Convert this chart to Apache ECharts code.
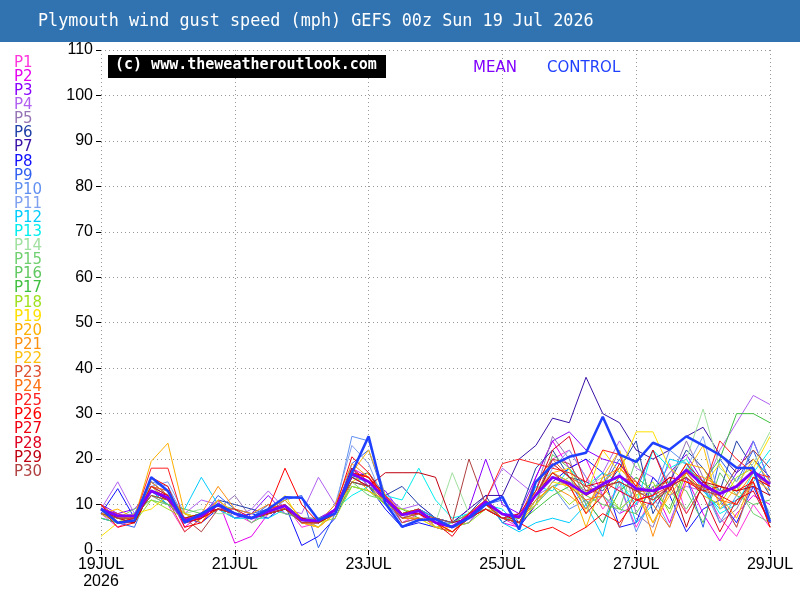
<!DOCTYPE html>
<html>
<head>
<meta charset="utf-8">
<script src="https://cdn.jsdelivr.net/npm/echarts@6/dist/echarts.min.js"></script>
<style>html,body{margin:0;padding:0;background:#fff}#c{width:800px;height:600px}</style>
</head>
<body>
<div id="c"></div>
<script>
// ---- Data ----
const titleText = 'Plymouth wind gust speed (mph) GEFS 00z Sun 19 Jul 2026';
const steps = ['19JUL 00','19JUL 06','19JUL 12','19JUL 18','20JUL 00','20JUL 06','20JUL 12','20JUL 18',
 '21JUL 00','21JUL 06','21JUL 12','21JUL 18','22JUL 00','22JUL 06','22JUL 12','22JUL 18',
 '23JUL 00','23JUL 06','23JUL 12','23JUL 18','24JUL 00','24JUL 06','24JUL 12','24JUL 18',
 '25JUL 00','25JUL 06','25JUL 12','25JUL 18','26JUL 00','26JUL 06','26JUL 12','26JUL 18',
 '27JUL 00','27JUL 06','27JUL 12','27JUL 18','28JUL 00','28JUL 06','28JUL 12','28JUL 18','29JUL 00'];
const xTickLabels = ['19JUL\n2026','21JUL','23JUL','25JUL','27JUL','29JUL'];
const yTicks = [0,10,20,30,40,50,60,70,80,90,100,110];

const meanVals = [9,7.5,7.5,13,11.5,6.5,7.5,10,8,7,8.5,9.7,6.6,6.4,8.8,16.8,15,11.3,7.7,8.6,6,5.1,7.3,10.6,7.9,7.3,12.1,16,14.6,12.3,14.5,16.3,13.5,13,14.3,17.6,14.3,12.4,14,17.3,14.5];
const controlVals = [9,6,6.5,16,13,6,8,10,8,7,9,11.6,11.5,6.6,8,17,25,10.3,5.1,6.6,6.8,5,7,10,11.7,4.5,15,18.7,20.5,21.4,29.3,21,19.4,23.6,22.1,25,23,20.9,18.1,18,6.2];

const P1  = [8,5,7,12,10,4,7,11,8,6,9,10,5,6,9,16,14,12,6,8,5,4,8,9, 7,5,10,20,22,16,9,14,5,12,19,8,14,7,3,10,5];
const P2  = [9,8,6,14,12,5,8,11,1.5,3,8,10,6,5,8,18,16,10,7,9,6,5,6,11, 6,5,16,24,18,20,12,8,10,14,6,16,8,2,8,12,10];
const P3  = [10,8,9,13,11,6,7,10,7,8,12,8,7,7,9,17,15,13,8,9,7,6,9,20, 10,8,16,24,26,22,20,19,15,12,17,21,15,11,17,24,15];
const P4  = [9,15,8,15,12,8,11,10,7,9,13,9,8,16,10,16,14,12,9,10,7,5,8,11, 18,15,12,14,15,13,17,24,18,16,12,14,13,22,28,34,32];
const P5  = [10,7,8,14,13,7,8,9,12,7,8,11,7,6,9,17,13,11,8,8,6,5,7,10, 8,7,13,25,20,10,14,22,8,5,15,24,16,6,9,16,13];
const P6  = [8,6,7,15,12,6,7,11,10,9,8,9,7,6,8,16,17,12,14,10,7,6,8,12, 6,8,18,22,16,15,13,18,24,8,15,22,18,13,24,18,12];
const P7  = [9,7,7,16,13,6,8,10,8,7,10,9,6,6,9,18,14,12,8,9,7,6,9,12, 12,20,23,29,28,38,30,28,22,20,22,25,27,21,17,20,16];
const P8  = [8,13.5,7,13,10,7,6,9,7,8,7,10,1,3,7,15,14,9,5,6,5,4,7,9, 8,5,10,15,18,20,17,5,6,16,12,4,9,11,6,14,6];
const P9  = [7,6,5,14,11,6,7,12,9,8,9,11,12,0.5,8,19,22,11,6,7,6,5,8,10, 11,6,12,17,15,9,14,20,13,22,14,16,5,20,15,22,13];
const P10 = [9,7,6,15,14,7,8,9,8,7,10,8,7,6,9,25,24,12,7,8,6,5,6,10, 8,7,10,14,9,11,6,15,4,12,22,19,14,6,12,24,15];
const P11 = [8,7,6,14,15,8,7,11,7,7,8,9,7,6,10,23,19,10,7,9,6,6,7,9, 7,7,11,18,22,16,12,8,14,12,5,18,25,11,5,15,8];
const P12 = [7,6,7,13,10,9,16,10,8,7,7,9,6,6,8,16,15,11,8,9,7,6,7,11, 6,4,6,7,6,10,3,17,6,10,20,19,13,9,11,15,20];
const P13 = [8,6,8,14,12,7,8,9,7,7,8,10,7,5,9,12,14,12,11,18,11,7,8,10, 9,5,14,13,18,14,17,15,10,22,18,20,14,8,10,17,22];
const P14 = [9,7,8,11,10,8,9,8,8,7,9,9,6,6,9,14,13,10,8,9,6,17,8,10, 8,7,15,17,13,14,16,14,12,13,17,20,31,18,15,19,26];
const P15 = [8,7,9,11,10,7,8,9,8,7,9,8,7,7,8,15,12,11,7,7,5,6,8,9, 7,7,10,14,16,10,12,9,20,11,13,9,15,13,14,8,6];
const P16 = [7,6,7,12,10,9,8,10,9,6,8,9,6,7,8,14,13,11,8,9,5,4,7,9, 7,6,10,21,18,12,10,9,8,14,15,13,6,17,12,10,11];
const P17 = [8,7,7,12,11,8,7,9,8,7,8,10,7,6,9,15,14,10,9,7,6,4,7,11, 8,6,9,12,14,11,6,13,16,13,9,18,15,20,30,30,28];
const P18 = [8,7,6,11,9,7,7,10,8,7,8,10,6,6,7,14,13,10,9,8,6,5,6,9, 7,6,11,14,10,13,14,9,12,15,8,17,12,10,16,18,7];
const P19 = [3,6,8,9,12,8,7,10,8,7,8,12,6,5,8,15,17,11,7,7,5,5,7,9, 8,6,10,15,14,12,22,17,26,26,18,15,14,19,13,18,25];
const P20 = [8,9,7,19.5,23.5,8,6,11,8,7,9,11,7,5,8,17,13,11,8,9,5,4,7,10, 7,6,12,17,15,5,15,18,14,6,13,19,18,12,7,16,13];
const P21 = [9,7,7,15,12,6,8,14,9,8,10,9,7,6,10,19,16,12,8,8,7,5,8,11, 8,6,11,14,12,9,16,18,15,3,14,17,16,14,12,17,14];
const P22 = [8,6,7,14,11,7,7,11,8,7,8,10,6,5,9,17,22,12,7,8,6,5,8,10, 7,6,13,17,18,8,16,22,12,6,12,17,23,9,14,20,15];
const P23 = [9,8,7,13,11,4,7,10,8,7,8,9,7,6,9,17,16,12,6,7,6,5,7,10, 8,7,15,20,16,14,12,5,13,11,14,8,14,12,5,16,14];
const P24 = [10,7,7,14,13,7,7,9,8,7,8,10,6,6,9,17,16,11,7,7,6,4,7,10, 7,6,12,16,14,11,12,16,15,10,5,15,14,11,10,15,5];
const P25 = [10,6,7,18,18,6,8,9,8,7,9,10,6,6,9,17,16,12,8,8,6,5,8,11, 19,20,19,18,17,15,22,21,11,12,14,17,13,24,20,17,16];
const P26 = [9,5,6,16,14,5,6,10,8,7,9,18,10,6,9,17,16,11,8,8,6,4,7,9, 7,6,4,5,3,5,8,6,11,12,16,15,13,14,13,15,5];
const P27 = [10,6,7,14,12,6,7,10,8,7,8,9,7,6,9,20.5,17,11,8,8,6,3,8,10, 8,7,12,17,14,8,12,19,14,22,13,19,15,12,10,16,14];
const P28 = [9,6,6,13,12,6,7,9,9,7,8,9,7,6,8,18,15,11,8,9,6,5,7,9, 7,8,13,22,25,14,15,13,11,10,14,16,12,4,11,13,6];
const P29 = [9,7,6,13,11,7,8,9,8,7,8,9,7,6,8,16,14,17,17,17,16,6,7,10, 8,6,12,19,16,12,14,15,13,13,16,5,15,14,13,14,12];
const P30 = [8,7,7,12,11,7,4,9,8,7,8,9,6,6,9,15,14,11,7,8,7,6,20,10, 7,6,12,20,19,13,14,15,13,11,14,16,13,12,18,22,18];

const memberNames = ['P1','P2','P3','P4','P5','P6','P7','P8','P9','P10','P11','P12','P13','P14','P15',
 'P16','P17','P18','P19','P20','P21','P22','P23','P24','P25','P26','P27','P28','P29','P30'];
const memberData = [P1,P2,P3,P4,P5,P6,P7,P8,P9,P10,P11,P12,P13,P14,P15,P16,P17,P18,P19,P20,P21,P22,P23,P24,P25,P26,P27,P28,P29,P30];

// ---- Styles ----
const memberColors = ['#ff33dd','#e600f0','#8a00ff','#b060f0','#9575b5','#2040a8','#3a10a8','#1010ff','#3060f0','#6090f0',
 '#7fa0f0','#00ccff','#00eeee','#a0e0a0','#70d070','#60c860','#40c040','#a0e020','#ffe000','#ffb000',
 '#ff9010','#ffc010','#e05030','#ff7010','#ff2020','#ff0000','#f00010','#e00020','#c00010','#b04040'];
const meanColor = '#8000ff';
const controlColor = '#2040ff';

const chart = echarts.init(document.getElementById('c'));
const majorIdx = (i) => i % 8 === 0;

const series = memberData.map((d, k) => ({
  name: memberNames[k], type: 'line', data: d, symbol: 'none', silent: true,
  lineStyle: { color: memberColors[k], width: 1 }, z: 2
}));
series.push({ name: 'MEAN', type: 'line', data: meanVals, symbol: 'none',
  lineStyle: { color: meanColor, width: 2.8 }, z: 4 });
series.push({ name: 'CONTROL', type: 'line', data: controlVals, symbol: 'none',
  lineStyle: { color: controlColor, width: 2.5 }, z: 5 });

const graphic = [
  { type: 'rect', left: 0, top: 0, shape: { width: 800, height: 42 }, style: { fill: '#3173b0' }, z: 10 },
  { type: 'text', left: 38, top: 13, style: { text: titleText, fill: '#ffffff', font: '16.8px "DejaVu Sans Mono"' }, z: 11 },
  { type: 'rect', left: 108, top: 55, shape: { width: 278, height: 23 }, style: { fill: '#000000' }, z: 10 },
  { type: 'text', left: 115, top: 58, style: { text: '(c) www.theweatheroutlook.com', fill: '#ffffff', font: 'bold 15px "DejaVu Sans Mono"' }, z: 11 },
  { type: 'text', left: 473, top: 61, style: { text: 'MEAN', fill: meanColor, font: '15px "DejaVu Sans"' }, z: 11 },
  { type: 'text', left: 547, top: 61, style: { text: 'CONTROL', fill: controlColor, font: '15px "DejaVu Sans"' }, z: 11 }
];
memberNames.forEach((n, k) => {
  graphic.push({ type: 'text', left: 14, top: 55.5 + k * 14.1, style: { text: n, fill: memberColors[k], font: '15px "DejaVu Sans"' }, z: 11 });
});

chart.setOption({
  animation: false,
  backgroundColor: '#ffffff',
  grid: { left: 101, right: 30, top: 50, bottom: 50 },
  xAxis: {
    type: 'category', data: steps, boundaryGap: false,
    axisLine: { show: false },
    axisTick: { show: true, interval: (i) => majorIdx(i), length: 5, lineStyle: { color: '#000' } },
    axisLabel: { interval: (i) => majorIdx(i), formatter: (v, i) => xTickLabels[i / 8], color: '#000',
      fontFamily: 'Liberation Sans', fontSize: 16, margin: 6, lineHeight: 17 },
    splitLine: { show: true, interval: (i) => majorIdx(i), lineStyle: { color: '#999', type: [1, 3], width: 1 } }
  },
  yAxis: {
    type: 'value', min: 0, max: 110, interval: 10,
    axisLine: { show: false },
    axisTick: { show: true, length: 5, lineStyle: { color: '#000' } },
    axisLabel: { color: '#000', fontFamily: 'Liberation Sans', fontSize: 16, margin: 8,
      formatter: (v) => yTicks.includes(v) ? String(v) : '' },
    splitLine: { show: true, lineStyle: { color: '#999', type: [1, 3], width: 1 } }
  },
  graphic: graphic,
  series: series
});
</script>
</body>
</html>
